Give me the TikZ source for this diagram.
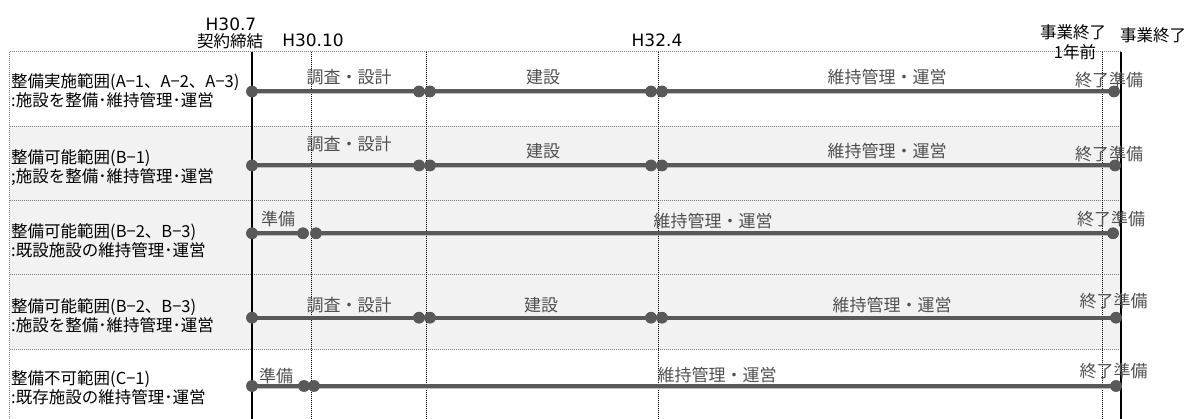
\documentclass[tikz,border=0pt]{standalone}
\usepackage{fontspec}
\setmainfont{Noto Sans CJK JP}
\newfontfamily\latf{DejaVu Sans}
\definecolor{bargray}{HTML}{595959}
\definecolor{shadowgray}{HTML}{BEBEBE}
\definecolor{labgray}{HTML}{505050}
\definecolor{rowfill}{HTML}{F2F2F2}
\definecolor{gridgray}{HTML}{7F7F7F}
\begin{document}
\begin{tikzpicture}[x=1pt,y=-1pt,
  rowlab/.style={anchor=west, align=left, font=\fontsize{16.5}{19}\selectfont, inner sep=0pt},
  barlab/.style={text=labgray, font=\fontsize{17}{18}\selectfont, inner sep=0pt},
  toplab/.style={font=\fontsize{16.5}{18}\selectfont, inner sep=0pt},
  hlab/.style={font=\latf\fontsize{17}{18}\selectfont, inner sep=0pt},
  dot/.style={circle, fill=bargray, inner sep=0pt, minimum size=11.5pt},
  bar/.style={draw=bargray, line width=4pt},
  barshadow/.style={draw=shadowgray, line width=3pt},
  grid/.style={draw=gridgray, line width=0.9pt, dash pattern=on 1pt off 1pt},
  vdot/.style={draw=black, line width=0.8pt, dash pattern=on 1pt off 1pt},
  vsolid/.style={draw=black, line width=1.1pt}]
\useasboundingbox (0,0) rectangle (1189,419);
% row fills
\fill[rowfill] (9.5,126) rectangle (1121,349.3);
% grid
\foreach \yy in {51.7,126,200.7,274.5,349.3} \draw[grid] (9.5,\yy) -- (1121,\yy);
\draw[grid] (9.5,51.7) -- (9.5,419);
% milestone lines
\draw[vsolid] (252,51.7) -- (252,419);
\foreach \xx in {311,426,658,1102} \draw[vdot] (\xx,51.7) -- (\xx,419);
\draw[vsolid] (1121,51.7) -- (1121,419);
% top labels
\node[hlab] (h307) at (231,24) {H30.7};
\node[toplab] (keiyaku) at (230,41) {契約締結};
\node[hlab] (h3010) at (313,40) {H30.10};
\node[hlab] (h324) at (657,40) {H32.4};
\node[toplab] (end1) at (1073,32) {事業終了};
\node[toplab] (end1b) at (1075,52) {1年前};
\node[toplab] (end2) at (1153,35) {事業終了};
% row labels
\node[rowlab] (lab1) at (11,90.5) {整備実施範囲(A−1、A−2、A−3)\\:施設を整備･維持管理･運営};
\node[rowlab] (lab2) at (11,167.5) {整備可能範囲(B−1)\\;施設を整備･維持管理･運営};
\node[rowlab] (lab3) at (11,240.5) {整備可能範囲(B−2、B−3)\\:既設施設の維持管理･運営};
\node[rowlab] (lab4) at (11,315.5) {整備可能範囲(B−2、B−3)\\:施設を整備･維持管理･運営};
\node[rowlab] (lab5) at (11,388) {整備不可範囲(C−1)\\:既存施設の維持管理･運営};
% dots
\node[dot] (r1a) at (252,91.5) {};
\node[dot] (r1b) at (419,91.5) {};
\node[dot] (r1c) at (430,91.5) {};
\node[dot] (r1d) at (651,91.5) {};
\node[dot] (r1e) at (662,91.5) {};
\node[dot] (r1f) at (1114,91.5) {};
\node[dot] (r2a) at (252,165.5) {};
\node[dot] (r2b) at (419,165.5) {};
\node[dot] (r2c) at (430,165.5) {};
\node[dot] (r2d) at (651,165.5) {};
\node[dot] (r2e) at (662,165.5) {};
\node[dot] (r2f) at (1115,165.5) {};
\node[dot] (r3a) at (252,233.3) {};
\node[dot] (r3b) at (303,233.3) {};
\node[dot] (r3c) at (316,233.3) {};
\node[dot] (r3f) at (1113,233.3) {};
\node[dot] (r4a) at (252,317.7) {};
\node[dot] (r4b) at (419,317.7) {};
\node[dot] (r4c) at (430,317.7) {};
\node[dot] (r4d) at (651,317.7) {};
\node[dot] (r4e) at (662,317.7) {};
\node[dot] (r4f) at (1116,317.7) {};
\node[dot] (r5a) at (252,386) {};
\node[dot] (r5b) at (304,386) {};
\node[dot] (r5c) at (314,386) {};
\node[dot] (r5f) at (1116,386) {};
% bars
\begin{scope}[transform canvas={yshift=-1.2pt}]
\foreach \p/\q in {r1a/r1b,r1c/r1d,r1e/r1f,r2a/r2b,r2c/r2d,r2e/r2f,r3a/r3b,r3c/r3f,r4a/r4b,r4c/r4d,r4e/r4f,r5a/r5b,r5c/r5f}
  \draw[barshadow] (\p.center) -- (\q.center);
\end{scope}
\foreach \p/\q in {r1a/r1b,r1c/r1d,r1e/r1f,r2a/r2b,r2c/r2d,r2e/r2f,r3a/r3b,r3c/r3f,r4a/r4b,r4c/r4d,r4e/r4f,r5a/r5b,r5c/r5f}
  \draw[bar] (\p.center) -- (\q.center);
\foreach \n in {r1a,r1b,r1c,r1d,r1e,r1f,r2a,r2b,r2c,r2d,r2e,r2f,r3a,r3b,r3c,r3f,r4a,r4b,r4c,r4d,r4e,r4f,r5a,r5b,r5c,r5f}
  \fill[bargray] (\n.center) circle (5.8pt);
% bar labels
\node[barlab] (t1a) at (349,77.5) {調査・設計};
\node[barlab] (t1b) at (543,77) {建設};
\node[barlab] (t1c) at (887,77) {維持管理・運営};
\node[barlab] (t1d) at (1109,80) {終了準備};
\node[barlab] (t2a) at (349,144) {調査・設計};
\node[barlab] (t2b) at (543,151) {建設};
\node[barlab] (t2c) at (887,151) {維持管理・運営};
\node[barlab] (t2d) at (1109,154) {終了準備};
\node[barlab] (t3a) at (278,219) {準備};
\node[barlab] (t3c) at (713,221.5) {維持管理・運営};
\node[barlab] (t3d) at (1111,219) {終了準備};
\node[barlab] (t4a) at (349,305) {調査・設計};
\node[barlab] (t4b) at (541,305) {建設};
\node[barlab] (t4c) at (892,305) {維持管理・運営};
\node[barlab] (t4d) at (1113.5,301) {終了準備};
\node[barlab] (t5a) at (276,376) {準備};
\node[barlab] (t5c) at (717,375) {維持管理・運営};
\node[barlab] (t5d) at (1113.5,371) {終了準備};
\end{tikzpicture}
\end{document}
